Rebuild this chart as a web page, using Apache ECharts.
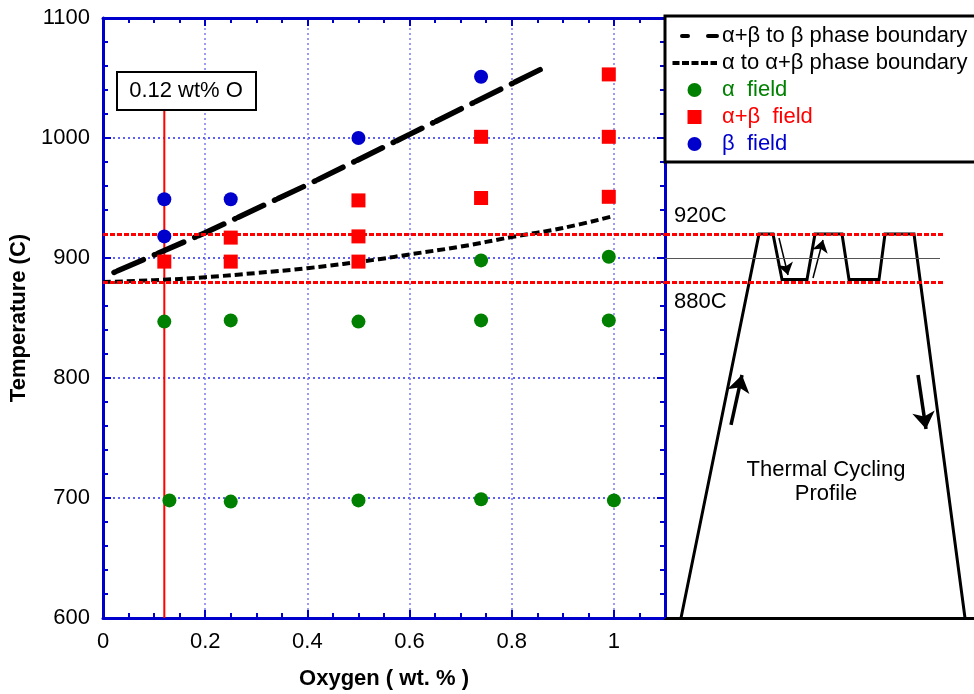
<!DOCTYPE html>
<html>
<head>
<meta charset="utf-8">
<script src="https://cdn.jsdelivr.net/npm/echarts@6/dist/echarts.min.js"></script>
<style>
html, body { margin: 0; padding: 0; background: #fff; }
#chart { width: 974px; height: 694px; }
</style>
</head>
<body>
<div id="chart"></div>
<script>
// Phase observed after thermal cycling: [oxygen wt.%, temperature °C]
const alphaField = [
  [0.12, 847], [0.25, 848], [0.50, 847], [0.74, 848], [0.99, 848],
  [0.13, 698], [0.25, 697], [0.50, 698], [0.74, 699], [1.00, 698],
  [0.74, 898], [0.99, 901]
];
const alphaBetaField = [
  [0.12, 897], [0.25, 897], [0.25, 917], [0.50, 897], [0.50, 918],
  [0.50, 948], [0.74, 950], [0.74, 1001], [0.99, 951], [0.99, 1001],
  [0.99, 1053]
];
const betaField = [
  [0.12, 949], [0.12, 918], [0.25, 949], [0.50, 1000], [0.74, 1051]
];

// Phase boundaries (oxygen wt.% vs temperature °C)
const betaBoundaryOxygen = [0, 0.2, 0.4, 0.6, 0.87];
const betaBoundaryTemp = [884, 921, 961, 1003, 1060];
const alphaBoundaryOxygen = [0, 0.1, 0.2, 0.3, 0.4, 0.54, 0.6, 0.7, 0.8, 0.9, 1.0];
const alphaBoundaryTemp = [880, 881.5, 884, 887.5, 891.5, 899, 903, 909.5, 917.5, 925, 935];

// Selected alloy composition
const selectedOxygen = 0.12;

// Thermal cycling limits
const cycleUpper = 920;
const cycleLower = 880;
const cycleMid = 900;

// Schematic thermal cycling profile (arbitrary time units vs °C)
const profileTime = [16, 94, 108, 117, 142, 150, 177, 184, 214, 220, 249, 300];
const profileTemp = [600, 920, 920, 882, 882, 920, 920, 882, 882, 920, 920, 600];
const profileArrows = [
  { from: [66, 761], to: [77, 802.5], heavy: true },
  { from: [253, 802.5], to: [261, 757.5], heavy: true },
  { from: [114, 916.7], to: [123, 885.8], heavy: false },
  { from: [148, 883.3], to: [158, 915], heavy: false }
];

// Axis ranges
const oxygenRange = [0, 1.1], oxygenStep = 0.2;
const tempRange = [600, 1100], tempStep = 100;

const FONT = '"Liberation Sans", Arial, sans-serif';
const BLUE = '#0000cc';
const GREEN = '#008000';
const RED = '#ff0000';

const zip = (xs, ys) => xs.map((x, i) => [x, ys[i]]);

const frameLine = { onZero: false, lineStyle: { color: BLUE, width: 3 } };
const majorTick = { inside: true, length: 8, lineStyle: { color: BLUE, width: 2 } };
const minorTickX = { show: true, splitNumber: 4, length: 5, lineStyle: { color: BLUE, width: 2 } };
const minorTickY = { show: true, splitNumber: 5, length: 5, lineStyle: { color: BLUE, width: 2 } };
const tickFont = { fontFamily: FONT, fontSize: 22, color: '#000' };
const hiddenSymbol = { color: 'rgba(0,0,0,0)', borderColor: 'rgba(0,0,0,0)', borderWidth: 0 };
const squareIcon = 'path://M0,0L10,0L10,10L0,10Z';

const chart = echarts.init(document.getElementById('chart'), null, { renderer: 'canvas' });

const option = {
  animation: false,
  backgroundColor: '#fff',
  grid: [
    { left: 103, top: 18, width: 562, height: 600, outerBoundsMode: 'none', containLabel: false },
    { left: 665, top: 18, width: 309, height: 600, outerBoundsMode: 'none', containLabel: false }
  ],
  xAxis: [
    {
      gridIndex: 0, type: 'value', position: 'bottom',
      min: oxygenRange[0], max: oxygenRange[1], interval: oxygenStep,
      name: 'Oxygen ( wt. % )', nameLocation: 'middle', nameGap: 50,
      nameTextStyle: { fontFamily: FONT, fontSize: 22, fontWeight: 'bold', color: '#000' },
      axisLine: frameLine, axisTick: majorTick, minorTick: minorTickX,
      axisLabel: Object.assign({ margin: 13, showMaxLabel: false, formatter: v => String(+v.toFixed(2)) }, tickFont),
      splitLine: { show: true, lineStyle: { color: '#7b7bf2', width: 1.5, type: [2, 3] } }
    },
    {
      gridIndex: 0, type: 'value', position: 'top',
      min: oxygenRange[0], max: oxygenRange[1], interval: oxygenStep,
      axisLine: frameLine, axisTick: majorTick, minorTick: minorTickX,
      axisLabel: { show: false }, splitLine: { show: false }
    },
    {
      gridIndex: 1, type: 'value', position: 'bottom', min: 0, max: 309,
      axisLine: { onZero: false, lineStyle: { color: '#000', width: 3 } },
      axisTick: { show: false }, axisLabel: { show: false }, splitLine: { show: false }
    }
  ],
  yAxis: [
    {
      gridIndex: 0, type: 'value', position: 'left',
      min: tempRange[0], max: tempRange[1], interval: tempStep,
      name: 'Temperature (C)', nameLocation: 'middle', nameGap: 67,
      nameTextStyle: { fontFamily: FONT, fontSize: 22, fontWeight: 'bold', color: '#000' },
      axisLine: frameLine, axisTick: majorTick, minorTick: minorTickY,
      axisLabel: Object.assign({ margin: 13, formatter: v => String(v) }, tickFont),
      splitLine: { show: true, lineStyle: { color: '#2b2bf0', width: 1.5, type: [2, 3] } }
    },
    {
      gridIndex: 0, type: 'value', position: 'right',
      min: tempRange[0], max: tempRange[1], interval: tempStep,
      axisLine: frameLine, axisTick: majorTick, minorTick: minorTickY,
      axisLabel: { show: false }, splitLine: { show: false }
    },
    {
      gridIndex: 1, type: 'value', min: tempRange[0], max: tempRange[1], show: false
    }
  ],
  legend: {
    orient: 'vertical', left: 670, top: 25, padding: 0,
    itemWidth: 45, itemHeight: 14, itemGap: 5, z: 100,
    symbolKeepAspect: true,
    textStyle: { fontFamily: FONT, fontSize: 22, lineHeight: 22, color: '#000' },
    data: [
      { name: 'α+β to β phase boundary', itemStyle: hiddenSymbol,
        lineStyle: { color: '#000', type: [26, 12, 6, 20], width: 4 } },
      { name: 'α to α+β phase boundary', itemStyle: hiddenSymbol,
        lineStyle: { color: '#000', type: [7, 2.5], width: 4 } },
      { name: 'α  field', icon: 'circle', textStyle: { color: GREEN } },
      { name: 'α+β  field', icon: squareIcon, textStyle: { color: RED } },
      { name: 'β  field', icon: 'circle', textStyle: { color: BLUE } }
    ]
  },
  series: [
    // Cycling limits across the phase map
    {
      type: 'line', xAxisIndex: 0, yAxisIndex: 0, silent: true, symbol: 'none',
      data: [], z: 2,
      markLine: {
        silent: true, symbol: 'none', label: { show: false },
        lineStyle: { color: RED, width: 3, type: [5, 2] },
        data: [
          [{ coord: [oxygenRange[0], cycleUpper] }, { coord: [oxygenRange[1], cycleUpper] }],
          [{ coord: [oxygenRange[0], cycleLower] }, { coord: [oxygenRange[1], cycleLower] }]
        ]
      }
    },
    // Composition marker
    {
      type: 'line', xAxisIndex: 0, yAxisIndex: 0, silent: true, symbol: 'none', z: 2,
      lineStyle: { color: RED, width: 2 },
      data: [[selectedOxygen, tempRange[0]], [selectedOxygen, 1023]]
    },
    {
      name: 'α+β to β phase boundary',
      type: 'line', xAxisIndex: 0, yAxisIndex: 0, symbol: 'none', z: 3,
      lineStyle: { color: '#000', width: 5.5, type: [28, 12, 1, 3], dashOffset: 28, cap: 'round' },
      itemStyle: { color: '#000' },
      data: zip(betaBoundaryOxygen, betaBoundaryTemp)
    },
    {
      name: 'α to α+β phase boundary',
      type: 'line', xAxisIndex: 0, yAxisIndex: 0, symbol: 'none', smooth: 0.4, z: 3,
      lineStyle: { color: '#000', width: 4, type: [8, 4] },
      itemStyle: { color: '#000' },
      data: zip(alphaBoundaryOxygen, alphaBoundaryTemp)
    },
    {
      name: 'α  field', type: 'scatter', xAxisIndex: 0, yAxisIndex: 0, z: 5,
      symbol: 'circle', symbolSize: 14, itemStyle: { color: GREEN, opacity: 1 },
      data: alphaField
    },
    {
      name: 'α+β  field', type: 'scatter', xAxisIndex: 0, yAxisIndex: 0, z: 5,
      symbol: 'rect', symbolSize: 14, itemStyle: { color: RED, opacity: 1 },
      data: alphaBetaField
    },
    {
      name: 'β  field', type: 'scatter', xAxisIndex: 0, yAxisIndex: 0, z: 5,
      symbol: 'circle', symbolSize: 14, itemStyle: { color: BLUE, opacity: 1 },
      data: betaField
    },
    // Thermal cycling profile panel
    {
      type: 'line', xAxisIndex: 2, yAxisIndex: 2, silent: true, symbol: 'none', data: [], z: 2,
      markLine: {
        silent: true, symbol: 'none', label: { show: false },
        data: [
          [{ coord: [0, cycleUpper], lineStyle: { color: RED, width: 3, type: [5, 2] } }, { coord: [278, cycleUpper] }],
          [{ coord: [0, cycleLower], lineStyle: { color: RED, width: 3, type: [5, 2] } }, { coord: [278, cycleLower] }],
          [{ coord: [0, cycleMid], lineStyle: { color: '#555', width: 1, type: 'solid' } }, { coord: [275, cycleMid] }]
        ]
      }
    },
    {
      type: 'line', xAxisIndex: 2, yAxisIndex: 2, silent: true, symbol: 'none', z: 4,
      lineStyle: { color: '#000', width: 3, join: 'miter' },
      data: zip(profileTime, profileTemp)
    },
    {
      type: 'lines', coordinateSystem: 'cartesian2d', xAxisIndex: 2, yAxisIndex: 2, silent: true, z: 4,
      symbol: ['none', 'arrow'], symbolSize: 17,
      lineStyle: { color: '#000', width: 3.5, opacity: 1 },
      data: profileArrows.filter(a => a.heavy).map(a => ({ coords: [a.from, a.to] }))
    },
    {
      type: 'lines', coordinateSystem: 'cartesian2d', xAxisIndex: 2, yAxisIndex: 2, silent: true, z: 4,
      symbol: ['none', 'arrow'], symbolSize: 12,
      lineStyle: { color: '#000', width: 1.5, opacity: 1 },
      data: profileArrows.filter(a => !a.heavy).map(a => ({ coords: [a.from, a.to] }))
    }
  ],
  graphic: [
    // Legend frame
    {
      type: 'rect', z: 50, silent: true,
      shape: { x: 665, y: 16, width: 320, height: 146 },
      style: { fill: '#fff', stroke: '#000', lineWidth: 3 }
    },
    // Composition callout
    {
      type: 'rect', z: 50, silent: true,
      shape: { x: 117, y: 72, width: 139, height: 38 },
      style: { fill: '#fff', stroke: '#000', lineWidth: 2 }
    },
    {
      type: 'text', z: 51, silent: true, x: 186, y: 91,
      style: { text: '0.12 wt% O', font: '22px ' + FONT, fill: '#000', align: 'center', verticalAlign: 'middle' }
    },
    {
      type: 'text', z: 51, silent: true, x: 674, y: 216,
      style: { text: '920C', font: '22px ' + FONT, fill: '#000', align: 'left', verticalAlign: 'middle' }
    },
    {
      type: 'text', z: 51, silent: true, x: 674, y: 302,
      style: { text: '880C', font: '22px ' + FONT, fill: '#000', align: 'left', verticalAlign: 'middle' }
    },
    {
      type: 'text', z: 51, silent: true, x: 826, y: 482,
      style: { text: 'Thermal Cycling\nProfile', font: '22px ' + FONT, lineHeight: 24, fill: '#000', align: 'center', verticalAlign: 'middle' }
    }
  ]
};

chart.setOption(option);
</script>
</body>
</html>
